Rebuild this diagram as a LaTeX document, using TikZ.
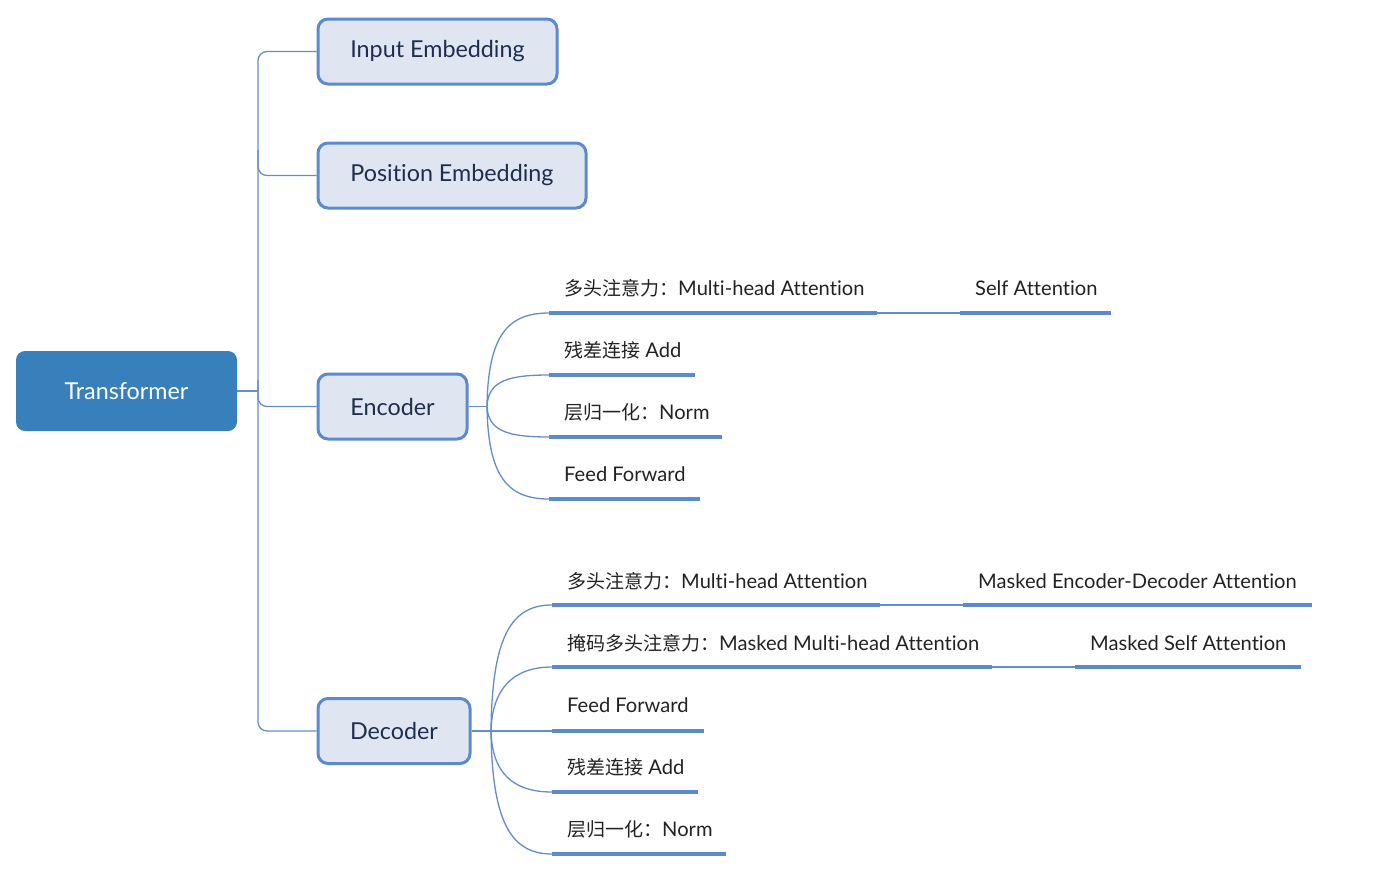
\documentclass[tikz,border=0pt]{standalone}
\usepackage{fontspec}
\setmainfont{Lato}[Scale=1.06, Ligatures=NoCommon]
\newfontfamily\cjk{Noto Sans CJK SC}
\definecolor{linec}{RGB}{98,140,204}
\definecolor{ulc}{RGB}{92,138,206}
\definecolor{rootfill}{RGB}{56,128,187}
\definecolor{boxfill}{RGB}{224,230,241}
\definecolor{boxtext}{RGB}{30,46,78}
\definecolor{childtext}{RGB}{34,34,34}
\begin{document}
\begin{tikzpicture}[x=1pt,y=-1pt,
  conn/.style={draw=linec, line width=1.3pt},
  uline/.style={draw=ulc, line width=4pt},
  rootbox/.style={fill=rootfill, rounded corners=9pt, text=white, font=\fontsize{22}{26}\selectfont, inner sep=0pt},
  lvbox/.style={draw=ulc, line width=3pt, fill=boxfill, rounded corners=10pt, text=boxtext, font=\fontsize{22}{26}\selectfont, inner sep=0pt, minimum height=65pt},
  child/.style={anchor=west, text=childtext, font=\fontsize{19}{23}\selectfont, inner sep=0pt}
]
\useasboundingbox (0,0) rectangle (1400,881);

% root and level-1 boxes
\node[rootbox, minimum width=221pt, minimum height=80pt] (root) at (126.5,391) {\raisebox{-1.5pt}{Transformer}};
\node[lvbox, minimum width=239pt] (ie) at (437.5,51.5) {\raisebox{-2.5pt}{Input Embedding}};
\node[lvbox, minimum width=268pt] (pe) at (452,175.5) {\raisebox{-2.5pt}{Position Embedding}};
\node[lvbox, minimum width=149pt] (enc) at (392.5,406.5) {\raisebox{-1.5pt}{Encoder}};
\node[lvbox, minimum width=152pt] (dec) at (394,731) {\raisebox{-1.5pt}{Decoder}};

% trunk
\coordinate (tr) at (258,391);
\draw[conn] (root.east) -- (tr);
\draw[conn, rounded corners=9pt] (ie.west) -- (258,51.5) -- (258,731) -- (dec.west);
\draw[conn, rounded corners=9pt] (258,150) -- (258,175.5) -- (pe.west);
\draw[conn, rounded corners=9pt] (258,380) -- (258,406.5) -- (enc.west);

% encoder children
\coordinate (eb) at (487,406.5);
\draw[conn] (enc.east) -- (eb);
\coordinate (e1s) at (549,313); \coordinate (e1e) at (877,313);
\coordinate (e2s) at (549,375); \coordinate (e2e) at (695,375);
\coordinate (e3s) at (549,437); \coordinate (e3e) at (722,437);
\coordinate (e4s) at (549,499); \coordinate (e4e) at (700,499);
\draw[conn] (eb) .. controls (488,335) and (508,313) .. (e1s);
\draw[conn] (eb) .. controls (488,381) and (508,375) .. (e2s);
\draw[conn] (eb) .. controls (488,431) and (508,437) .. (e3s);
\draw[conn] (eb) .. controls (488,477) and (508,499) .. (e4s);
\draw[uline] (e1s) -- (e1e);
\draw[uline] (e2s) -- (e2e);
\draw[uline] (e3s) -- (e3e);
\draw[uline] (e4s) -- (e4e);
\node[child] (e1) at (564,288) {{\cjk 多头注意力：}Multi-head Attention};
\node[child] (e2) at (564,350) {{\cjk 残差连接} Add};
\node[child] (e3) at (564,412) {{\cjk 层归一化：}Norm};
\node[child] (e4) at (564,474) {Feed Forward};
% self attention
\coordinate (s1s) at (960,313); \coordinate (s1e) at (1111,313);
\draw[conn] (e1e) -- (s1s);
\draw[uline] (s1s) -- (s1e);
\node[child] (s1) at (975,288) {Self Attention};

% decoder children
\coordinate (db) at (491,731);
\draw[conn] (dec.east) -- (db);
\coordinate (d1s) at (552,605); \coordinate (d1e) at (880,605);
\coordinate (d2s) at (552,667); \coordinate (d2e) at (992,667);
\coordinate (d3s) at (552,731); \coordinate (d3e) at (704,731);
\coordinate (d4s) at (552,792); \coordinate (d4e) at (698,792);
\coordinate (d5s) at (552,854); \coordinate (d5e) at (726,854);
\draw[conn] (db) .. controls (492,635) and (512,605) .. (d1s);
\draw[conn] (db) .. controls (492,690) and (512,667) .. (d2s);
\draw[conn] (db) -- (d3s);
\draw[conn] (db) .. controls (492,772) and (512,792) .. (d4s);
\draw[conn] (db) .. controls (492,824) and (512,854) .. (d5s);
\draw[uline] (d1s) -- (d1e);
\draw[uline] (d2s) -- (d2e);
\draw[uline] (d3s) -- (d3e);
\draw[uline] (d4s) -- (d4e);
\draw[uline] (d5s) -- (d5e);
\node[child] (d1) at (567,581) {{\cjk 多头注意力：}Multi-head Attention};
\node[child] (d2) at (567,643) {{\cjk 掩码多头注意力：}Masked Multi-head Attention};
\node[child] (d3) at (567,705) {Feed Forward};
\node[child] (d4) at (567,767) {{\cjk 残差连接} Add};
\node[child] (d5) at (567,829) {{\cjk 层归一化：}Norm};
% decoder grandchildren
\coordinate (m1s) at (963,605); \coordinate (m1e) at (1312,605);
\draw[conn] (d1e) -- (m1s);
\draw[uline] (m1s) -- (m1e);
\node[child] (m1) at (978,581) {Masked Encoder-Decoder Attention};
\coordinate (m2s) at (1075,667); \coordinate (m2e) at (1301,667);
\draw[conn] (d2e) -- (m2s);
\draw[uline] (m2s) -- (m2e);
\node[child] (m2) at (1090,643) {Masked Self Attention};
\end{tikzpicture}
\end{document}
